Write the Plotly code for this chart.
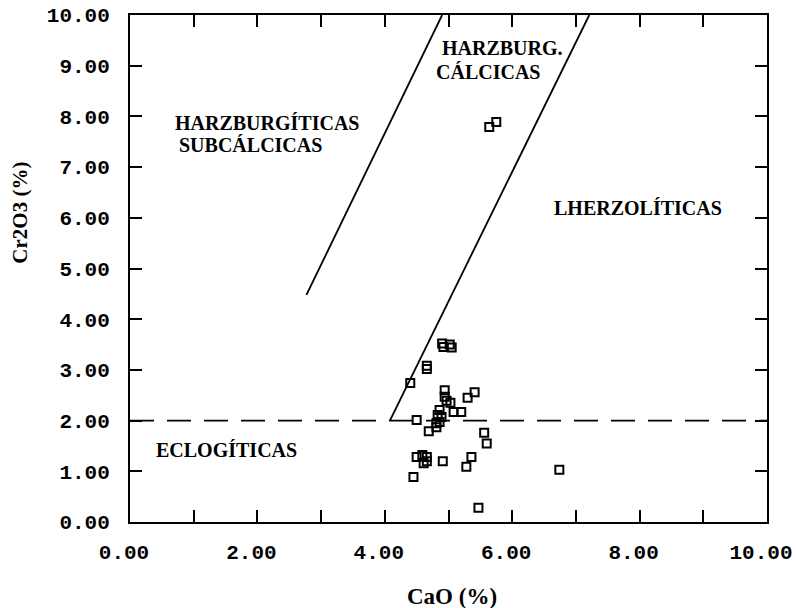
import plotly.graph_objects as go

# ---- data ----
cao = [5.64, 5.75,
       4.90, 5.02, 4.92, 5.05,
       4.66, 4.66,
       4.40,
       4.94,
       5.41,
       5.30,
       4.94, 4.97, 5.03,
       4.86,
       5.08, 5.20,
       4.83, 4.89,
       4.81, 4.86,
       4.50,
       4.81,
       4.69,
       5.56,
       5.60,
       4.50, 4.59, 4.66, 4.61, 4.66,
       4.91,
       5.36, 5.28,
       4.45,
       5.47,
       6.74]
cr2o3 = [7.79, 7.89,
         3.52, 3.50, 3.45, 3.44,
         3.08, 3.02,
         2.74,
         2.60,
         2.56,
         2.45,
         2.47, 2.39, 2.35,
         2.21,
         2.17, 2.17,
         2.11, 2.07,
         1.95, 1.97,
         2.01,
         1.87,
         1.79,
         1.76,
         1.55,
         1.28, 1.32, 1.28, 1.16, 1.20,
         1.20,
         1.28, 1.09,
         0.89,
         0.28,
         1.03]

# field boundaries
line1_x = [2.77, 4.90]
line1_y = [4.48, 10.0]
line2_x = [4.08, 7.21]
line2_y = [2.0, 10.0]
eclog_x = [0.0, 10.0]
eclog_y = [2.0, 2.0]

x_tickvals = [0, 1, 2, 3, 4, 5, 6, 7, 8, 9, 10]
x_ticktext = ["0.00", "", "2.00", "", "4.00", "", "6.00", "", "8.00", "", "10.00"]
y_tickvals = [0, 1, 2, 3, 4, 5, 6, 7, 8, 9, 10]
y_ticktext = ["0.00", "1.00", "2.00", "3.00", "4.00", "5.00",
              "6.00", "7.00", "8.00", "9.00", "10.00"]

# region labels (text, x, y)
region_text = ["HARZBURGÍTICAS", "SUBCÁLCICAS", "HARZBURG.", "CÁLCICAS",
               "LHERZOLÍTICAS", "ECLOGÍTICAS"]
region_x = [0.67, 0.74, 4.86, 4.78, 6.63, 0.38]
region_y = [7.87, 7.44, 9.35, 8.88, 6.19, 1.42]

# ---- figure ----
fig = go.Figure()

fig.add_trace(go.Scatter(x=line1_x, y=line1_y, mode="lines",
                         line=dict(color="black", width=1.8), showlegend=False))
fig.add_trace(go.Scatter(x=line2_x, y=line2_y, mode="lines",
                         line=dict(color="black", width=1.8), showlegend=False))
fig.add_trace(go.Scatter(x=eclog_x, y=eclog_y, mode="lines",
                         line=dict(color="black", width=1.8, dash="24px,13px"),
                         showlegend=False))
fig.add_trace(go.Scatter(x=cao, y=cr2o3, mode="markers",
                         marker=dict(symbol="square-open", size=8, color="black",
                                     line=dict(width=2, color="black")),
                         showlegend=False))

serif = "Liberation Serif"
mono = "Liberation Mono"

for t, xx, yy in zip(region_text, region_x, region_y):
    fig.add_annotation(x=xx, y=yy, text=t, showarrow=False, xanchor="left",
                       yanchor="middle",
                       font=dict(family=serif, size=20, color="black", weight="bold"))

fig.add_annotation(xref="paper", yref="paper", x=-0.172, y=0.611,
                   text="Cr2O3 (%)", textangle=-90, showarrow=False,
                   xanchor="center", yanchor="middle",
                   font=dict(family=serif, size=21, color="black", weight="bold"))

fig.add_annotation(xref="paper", yref="paper", x=0.506, y=-0.146,
                   text="CaO (%)", showarrow=False,
                   xanchor="center", yanchor="middle",
                   font=dict(family=serif, size=23, color="black", weight="bold"))

axis_common = dict(range=[0, 10], showgrid=False, zeroline=False,
                   showline=True, linecolor="black", linewidth=2,
                   mirror="ticks", ticks="inside", ticklen=12, tickwidth=2,
                   tickcolor="black", tickmode="array", automargin=False,
                   ticklabeloverflow="allow",
                   tickfont=dict(family=mono, size=21, color="black", weight="bold"))

fig.update_layout(
    width=796, height=608,
    margin=dict(l=130, r=29, t=15, b=86),
    paper_bgcolor="white", plot_bgcolor="white",
    xaxis=dict(**axis_common, tickvals=x_tickvals, ticktext=x_ticktext,
               ticklabelstandoff=10, ticklabelshift=-6),
    yaxis=dict(**axis_common, tickvals=y_tickvals, ticktext=y_ticktext,
               ticklabelstandoff=14),
)

fig.write_html("out.html")
